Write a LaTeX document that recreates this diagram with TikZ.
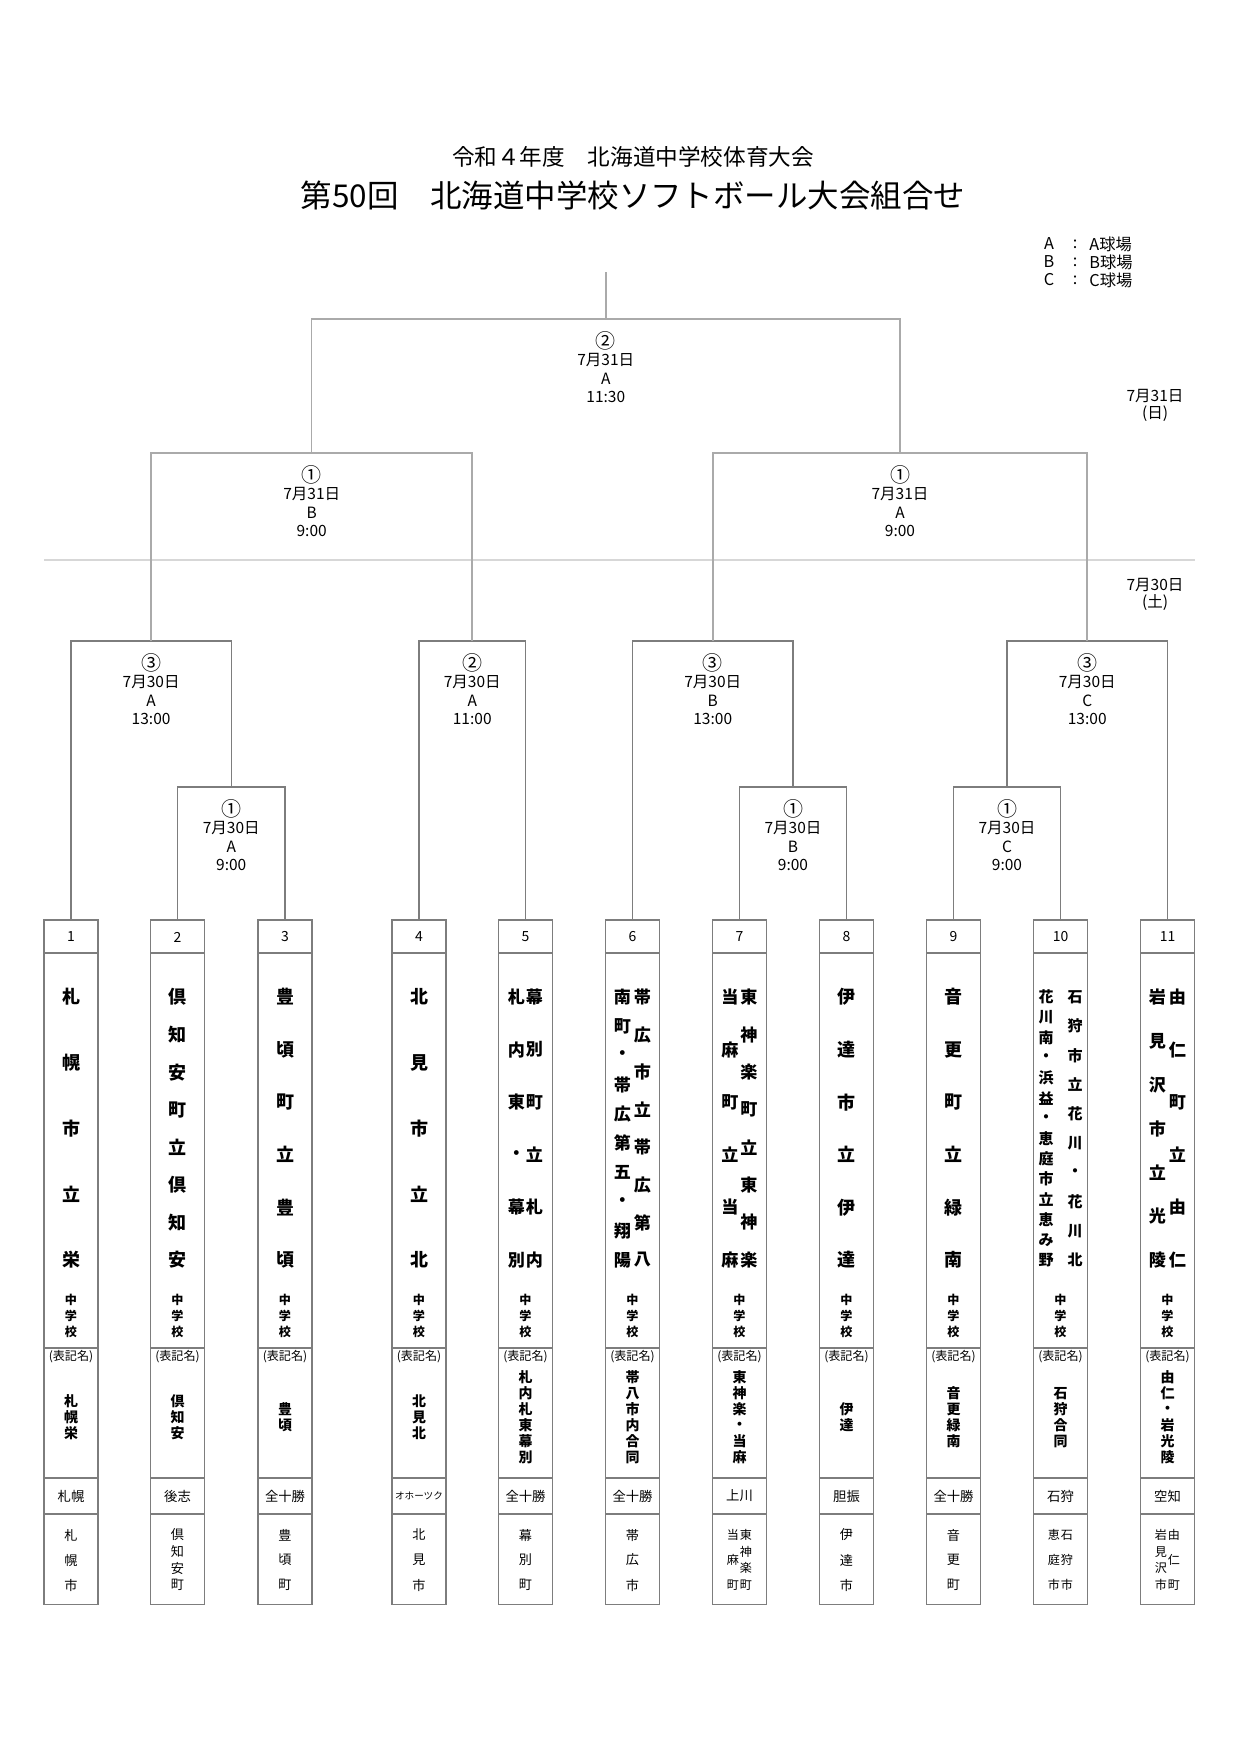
\documentclass[tikz,border=0pt]{standalone}
\usepackage{fontspec}
\setmainfont{Noto Sans CJK JP}
\definecolor{lnA}{RGB}{170,170,170}
\definecolor{lnB}{RGB}{125,125,125}
\definecolor{bxln}{RGB}{125,125,125}
\definecolor{divln}{RGB}{215,215,215}
\newcommand\vcol[7]{%
  \foreach \c [count=\i from 0] in {#7}{%
    \node[#6] (#1-\i) at ({#2},{#3+(#4-#3)*\i/(#5-1)}) {\c};}}
\newcommand\blab[7]{%
  \node[circ] (#1a) at (#2,#3+22) {#4};
  \node[lab] (#1b) at (#2,#3+41) {#5};
  \node[lab] (#1c) at (#2,#3+59.5) {#6};
  \node[lab] (#1d) at (#2,#3+77.5) {#7};}
\newcommand\teambox[4]{%
  \node[tbox] (b#1) at (#2,1262) {};
  \draw[boxst] (#2-27,953) -- (#2+27,953);
  \draw[boxst] (#2-27,1348) -- (#2+27,1348);
  \draw[boxst] (#2-27,1478) -- (#2+27,1478);
  \draw[boxst] (#2-27,1514) -- (#2+27,1514);
  \node[num] (n#1) at (#2,937) {#3};
  \node[sch] (s#1a) at (#2,1300) {中};
  \node[sch] (s#1b) at (#2,1316) {学};
  \node[sch] (s#1c) at (#2,1332) {校};
  \node[hyo] (h#1) at (#2,1357) {(表記名)};
  \node[reg] (r#1) at (#2,1496) {#4};}
\begin{document}
\begin{tikzpicture}[x=0.48pt,y=-0.48pt,
  every node/.style={inner sep=0pt, text=black},
  lnAst/.style={draw=lnA, line width=0.75pt},
  lnBst/.style={draw=lnB, line width=0.55pt},
  boxst/.style={draw=bxln, line width=0.5pt},
  tbox/.style={draw=bxln, line width=0.5pt, minimum width=25.92pt, minimum height=328.32pt},
  divst/.style={draw=divln, line width=0.8pt},
  tA/.style={font=\fontsize{10.85pt}{12pt}\selectfont},
  tB/.style={font=\fontsize{15.1pt}{17pt}\selectfont},
  leg/.style={font=\fontsize{7.8pt}{9pt}\selectfont},
  lab/.style={font=\fontsize{7.45pt}{9pt}\selectfont},
  circ/.style={font=\fontsize{9.6pt}{10pt}\selectfont},
  num/.style={font=\fontsize{6.7pt}{8pt}\selectfont},
  nmA/.style={font=\fontsize{8.64pt}{9pt}\selectfont\bfseries},
  nmB/.style={font=\fontsize{8.2pt}{9pt}\selectfont\bfseries},
  nmC/.style={font=\fontsize{7.2pt}{8pt}\selectfont\bfseries},
  sch/.style={font=\fontsize{5.8pt}{6pt}\selectfont\bfseries},
  hyo/.style={font=\fontsize{5.8pt}{6pt}\selectfont},
  abr/.style={font=\fontsize{6.7pt}{7pt}\selectfont\bfseries},
  reg/.style={font=\fontsize{6.4pt}{7pt}\selectfont},
  cty/.style={font=\fontsize{6.3pt}{7pt}\selectfont},
  ctyB/.style={font=\fontsize{5.8pt}{6pt}\selectfont}]
\useasboundingbox[fill=white] (0,0) rectangle (1240,1754);

% titles
\node[tA] (t1) at (633,157) {令和４年度　北海道中学校体育大会};
\node[tB] (t2) at (633,196) {第50回　北海道中学校ソフトボール大会組合せ};

% legend
\node[leg] (la1) at (1049,244) {A};
\node[leg] (la2) at (1075,244) {:};
\node[leg,anchor=west] (la3) at (1089,244) {A球場};
\node[leg] (lb1) at (1049,262) {B};
\node[leg] (lb2) at (1075,262) {:};
\node[leg,anchor=west] (lb3) at (1089,262) {B球場};
\node[leg] (lc1) at (1049,280) {C};
\node[leg] (lc2) at (1075,280) {:};
\node[leg,anchor=west] (lc3) at (1089,280) {C球場};

% day labels
\node[lab] (d1a) at (1155,396) {7月31日};
\node[lab] (d1b) at (1155,414) {(日)};
\node[lab] (d2a) at (1155,585) {7月30日};
\node[lab] (d2b) at (1155,603) {(土)};

% day divider
\draw[divst] (44,560) -- (1195,560);

% team boxes
\teambox{1}{71}{1}{札幌}
\teambox{2}{177.5}{2}{後志}
\teambox{3}{285}{3}{全十勝}
\teambox{4}{419}{4}{\fontsize{4.6pt}{5pt}\selectfont オホーツク}
\teambox{5}{525.5}{5}{全十勝}
\teambox{6}{632.5}{6}{全十勝}
\teambox{7}{739.5}{7}{上川}
\teambox{8}{846.5}{8}{胆振}
\teambox{9}{953.5}{9}{全十勝}
\teambox{10}{1060.5}{10}{石狩}
\teambox{11}{1167.5}{11}{空知}

% school names
\vcol{p1}{71}{997}{1260}{5}{nmA}{札,幌,市,立,栄}
\vcol{p2}{177.5}{997}{1260}{8}{nmA}{倶,知,安,町,立,倶,知,安}
\vcol{p3}{285}{997}{1260}{6}{nmA}{豊,頃,町,立,豊,頃}
\vcol{p4}{419}{997}{1260}{5}{nmA}{北,見,市,立,北}
\vcol{p5r}{534.5}{997}{1260}{6}{nmB}{幕,別,町,立,札,内}
\vcol{p5l}{516.5}{997}{1260}{6}{nmB}{札,内,東,・,幕,別}
\vcol{p6r}{642.5}{997}{1260}{8}{nmB}{帯,広,市,立,帯,広,第,八}
\vcol{p6l}{622.5}{997}{1260}{10}{nmB}{南,町,・,帯,広,第,五,・,翔,陽}
\vcol{p7r}{749}{997}{1260}{8}{nmB}{東,神,楽,町,立,東,神,楽}
\vcol{p7l}{730}{997}{1260}{6}{nmB}{当,麻,町,立,当,麻}
\vcol{p8}{846.5}{997}{1260}{6}{nmA}{伊,達,市,立,伊,達}
\vcol{p9}{953.5}{997}{1260}{6}{nmA}{音,更,町,立,緑,南}
\vcol{p10r}{1075}{997}{1260}{10}{nmC}{石,狩,市,立,花,川,・,花,川,北}
\vcol{p10l}{1046}{997}{1260}{14}{nmC}{花,川,南,・,浜,益,・,恵,庭,市,立,恵,み,野}
\vcol{p11r}{1177.5}{997}{1260}{6}{nmB}{由,仁,町,立,由,仁}
\vcol{p11l}{1157.5}{997}{1260}{7}{nmB}{岩,見,沢,市,立,光,陵}

% abbreviated names
\vcol{a1}{71}{1401.5}{1433.5}{3}{abr}{札,幌,栄}
\vcol{a2}{177.5}{1401.5}{1433.5}{3}{abr}{倶,知,安}
\vcol{a3}{285}{1409.5}{1425.5}{2}{abr}{豊,頃}
\vcol{a4}{419}{1401.5}{1433.5}{3}{abr}{北,見,北}
\vcol{a5}{525.5}{1377.5}{1457.5}{6}{abr}{札,内,札,東,幕,別}
\vcol{a6}{632.5}{1377.5}{1457.5}{6}{abr}{帯,八,市,内,合,同}
\vcol{a7}{739.5}{1377.5}{1457.5}{6}{abr}{東,神,楽,・,当,麻}
\vcol{a8}{846.5}{1409.5}{1425.5}{2}{abr}{伊,達}
\vcol{a9}{953.5}{1393.5}{1441.5}{4}{abr}{音,更,緑,南}
\vcol{a10}{1060.5}{1393.5}{1441.5}{4}{abr}{石,狩,合,同}
\vcol{a11}{1167.5}{1377.5}{1457.5}{6}{abr}{由,仁,・,岩,光,陵}

% municipalities
\vcol{c1}{71}{1535}{1585}{3}{cty}{札,幌,市}
\vcol{c2}{177.5}{1535}{1585}{4}{cty}{倶,知,安,町}
\vcol{c3}{285}{1535}{1585}{3}{cty}{豊,頃,町}
\vcol{c4}{419}{1535}{1585}{3}{cty}{北,見,市}
\vcol{c5}{525.5}{1535}{1585}{3}{cty}{幕,別,町}
\vcol{c6}{632.5}{1535}{1585}{3}{cty}{帯,広,市}
\vcol{c7r}{746}{1535}{1585}{4}{ctyB}{東,神,楽,町}
\vcol{c7l}{733}{1535}{1585}{3}{ctyB}{当,麻,町}
\vcol{c8}{846.5}{1535}{1585}{3}{cty}{伊,達,市}
\vcol{c9}{953.5}{1535}{1585}{3}{cty}{音,更,町}
\vcol{c10r}{1067}{1535}{1585}{3}{ctyB}{石,狩,市}
\vcol{c10l}{1054}{1535}{1585}{3}{ctyB}{恵,庭,市}
\vcol{c11r}{1174}{1535}{1585}{3}{ctyB}{由,仁,町}
\vcol{c11l}{1161}{1535}{1585}{4}{ctyB}{岩,見,沢,市}

% bracket junctions
\coordinate (m4a) at (231.25,787);
\coordinate (m3a) at (151.1,641);
\coordinate (m3b) at (472.25,641);
\coordinate (m2a) at (311.7,453);
\coordinate (m4b) at (793,787);
\coordinate (m3c) at (712.75,641);
\coordinate (m4c) at (1007,787);
\coordinate (m3d) at (1087.25,641);
\coordinate (m2b) at (900,453);
\coordinate (m1) at (605.8,319);
\coordinate (top) at (605.8,272);

% bracket lines
\draw[lnBst] (b2.north) |- (m4a) -| (b3.north);
\draw[lnBst] (b1.north) |- (m3a) -| (m4a);
\draw[lnBst] (b4.north) |- (m3b) -| (b5.north);
\draw[lnBst] (b7.north) |- (m4b) -| (b8.north);
\draw[lnBst] (b6.north) |- (m3c) -| (m4b);
\draw[lnBst] (b9.north) |- (m4c) -| (b10.north);
\draw[lnBst] (m4c) |- (m3d) -| (b11.north);
\draw[lnAst] (m3a) |- (m2a) -| (m3b);
\draw[lnAst] (m3c) |- (m2b) -| (m3d);
\draw[lnAst] (m2a) |- (m1) -| (m2b);
\draw[lnAst] (m1) -- (top);

% match labels
\blab{L1}{605.8}{319}{②}{7月31日}{A}{11:30}
\blab{L2a}{311.7}{453}{①}{7月31日}{B}{9:00}
\blab{L2b}{900}{453}{①}{7月31日}{A}{9:00}
\blab{L3a}{151.1}{641}{③}{7月30日}{A}{13:00}
\blab{L3b}{472.25}{641}{②}{7月30日}{A}{11:00}
\blab{L3c}{712.75}{641}{③}{7月30日}{B}{13:00}
\blab{L3d}{1087.25}{641}{③}{7月30日}{C}{13:00}
\blab{L4a}{231.25}{787}{①}{7月30日}{A}{9:00}
\blab{L4b}{793}{787}{①}{7月30日}{B}{9:00}
\blab{L4c}{1007}{787}{①}{7月30日}{C}{9:00}
\end{tikzpicture}
\end{document}
